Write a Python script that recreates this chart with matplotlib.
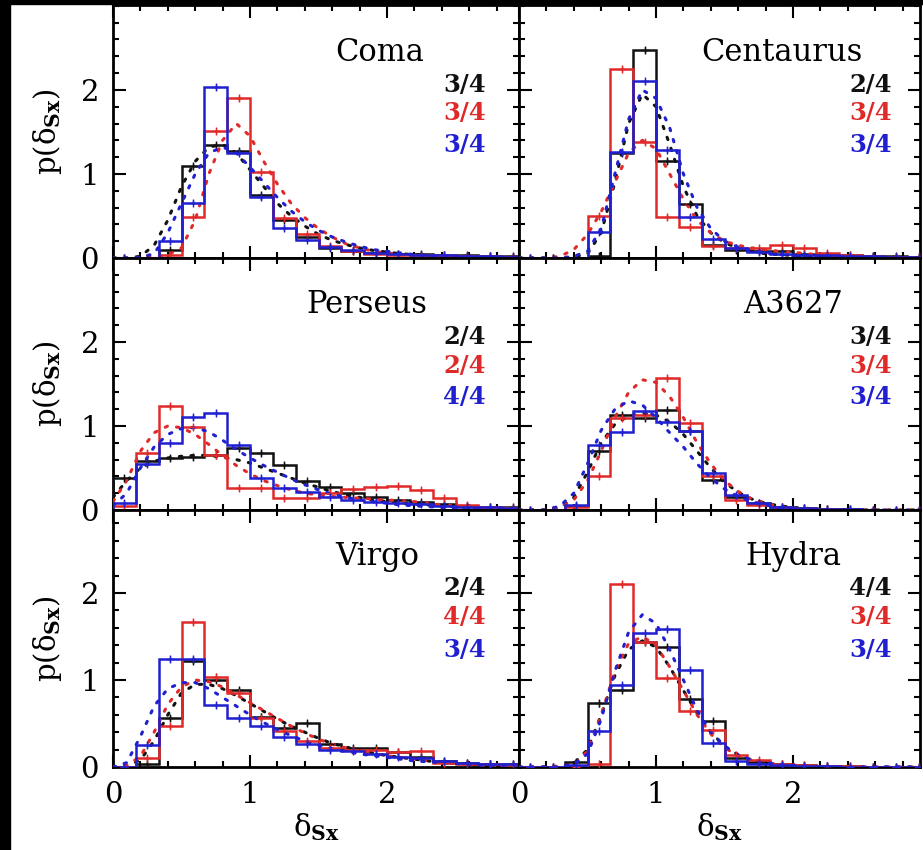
import numpy as np
import matplotlib
matplotlib.use("Agg")
import matplotlib.pyplot as plt
from matplotlib.patches import Rectangle
from matplotlib.ticker import MultipleLocator, FixedLocator

plt.rcParams['font.family'] = ['DejaVu Serif']
plt.rcParams['mathtext.fontset'] = 'dejavuserif'

# ---------------- data ----------------
bin_edges = np.arange(19) / 6.0          # bins of width 1/6 from 0 to 3
fit_x = np.round(np.arange(31) * 0.1, 2)  # sampling of the dotted model curves

clusters = ["Coma", "Centaurus", "Perseus", "A3627", "Virgo", "Hydra"]

frac_black = ["3/4", "2/4", "2/4", "3/4", "2/4", "4/4"]
frac_red   = ["3/4", "3/4", "2/4", "3/4", "4/4", "3/4"]
frac_blue  = ["3/4", "3/4", "4/4", "3/4", "3/4", "3/4"]

tick_labels = ["0", "1", "2"]

coma_black = [0, 0, 0.1, 1.1, 1.35, 1.27, 0.75, 0.45, 0.25, 0.12, 0.08, 0.06, 0.05, 0.05, 0.04, 0.03, 0.02, 0.02]
coma_red   = [0, 0, 0.03, 0.49, 1.51, 1.9, 1.02, 0.47, 0.28, 0.14, 0.08, 0.05, 0.04, 0.03, 0.03, 0.02, 0.02, 0.01]
coma_blue  = [0, 0, 0.2, 0.66, 2.03, 1.25, 0.73, 0.36, 0.22, 0.13, 0.09, 0.06, 0.05, 0.04, 0.03, 0.02, 0.02, 0.01]

cen_black = [0, 0, 0, 0.02, 1.25, 2.47, 1.15, 0.64, 0.15, 0.1, 0.08, 0.08, 0.05, 0.04, 0.03, 0.02, 0.02, 0.01]
cen_red   = [0, 0, 0, 0.5, 2.25, 1.38, 0.49, 0.37, 0.14, 0.12, 0.12, 0.15, 0.12, 0.06, 0.03, 0.02, 0.01, 0.01]
cen_blue  = [0, 0, 0, 0.31, 1.26, 2.1, 1.28, 0.49, 0.23, 0.12, 0.07, 0.05, 0.04, 0.03, 0.02, 0.02, 0.01, 0.01]

per_black = [0.38, 0.58, 0.62, 0.63, 0.65, 0.74, 0.68, 0.54, 0.34, 0.27, 0.2, 0.15, 0.12, 0.1, 0.07, 0.05, 0.04, 0.03]
per_red   = [0.05, 0.68, 1.24, 0.99, 0.65, 0.26, 0.26, 0.14, 0.14, 0.2, 0.25, 0.27, 0.29, 0.24, 0.14, 0.06, 0.03, 0.02]
per_blue  = [0.08, 0.55, 0.8, 1.11, 1.15, 0.77, 0.38, 0.26, 0.22, 0.16, 0.12, 0.1, 0.08, 0.07, 0.05, 0.04, 0.03, 0.02]

a36_black = [0, 0, 0.05, 0.7, 1.13, 1.1, 1.19, 0.94, 0.36, 0.15, 0.08, 0.04, 0.02, 0.01, 0.01, 0, 0, 0]
a36_red   = [0, 0, 0.03, 0.4, 1.1, 1.13, 1.57, 1.04, 0.4, 0.12, 0.06, 0.03, 0.02, 0.01, 0, 0, 0, 0]
a36_blue  = [0, 0, 0.06, 0.77, 0.93, 1.18, 1.05, 0.94, 0.44, 0.18, 0.08, 0.04, 0.02, 0.01, 0.01, 0, 0, 0]

vir_black = [0, 0.03, 0.56, 1.22, 1.0, 0.88, 0.58, 0.45, 0.51, 0.27, 0.22, 0.22, 0.17, 0.12, 0.07, 0.05, 0.04, 0.03]
vir_red   = [0, 0.1, 0.47, 1.67, 1.04, 0.85, 0.56, 0.41, 0.3, 0.22, 0.2, 0.2, 0.17, 0.18, 0.05, 0.04, 0.03, 0.02]
vir_blue  = [0, 0.25, 1.24, 1.24, 0.71, 0.56, 0.47, 0.35, 0.27, 0.2, 0.18, 0.15, 0.12, 0.1, 0.07, 0.05, 0.04, 0.03]

hyd_black = [0, 0, 0.06, 0.73, 0.88, 1.44, 1.38, 0.78, 0.53, 0.1, 0.06, 0.03, 0.02, 0.01, 0.01, 0, 0, 0]
hyd_red   = [0, 0, 0, 0.04, 2.1, 1.44, 1.02, 0.64, 0.43, 0.14, 0.08, 0.04, 0.02, 0.01, 0.01, 0, 0, 0]
hyd_blue  = [0, 0, 0.02, 0.41, 0.94, 1.54, 1.59, 1.11, 0.28, 0.07, 0.04, 0.02, 0.01, 0.01, 0, 0, 0, 0]

coma_black_fit = [0, 0, 0.02, 0.15, 0.45, 0.85, 1.15, 1.32, 1.35, 1.25, 1.05, 0.85, 0.65, 0.5, 0.38, 0.28, 0.21, 0.16, 0.12, 0.09, 0.07, 0.05, 0.04, 0.03, 0.02, 0.02, 0.01, 0.01, 0.01, 0, 0]
coma_red_fit   = [0, 0, 0, 0.01, 0.04, 0.12, 0.45, 1.0, 1.4, 1.6, 1.45, 1.15, 0.88, 0.65, 0.48, 0.35, 0.25, 0.17, 0.12, 0.08, 0.06, 0.04, 0.03, 0.02, 0.01, 0.01, 0, 0, 0, 0, 0]
coma_blue_fit  = [0, 0, 0.01, 0.05, 0.3, 0.65, 1.0, 1.25, 1.32, 1.25, 1.08, 0.9, 0.72, 0.56, 0.43, 0.33, 0.25, 0.19, 0.14, 0.1, 0.08, 0.06, 0.04, 0.03, 0.02, 0.02, 0.01, 0.01, 0, 0, 0]

cen_black_fit = [0, 0, 0, 0, 0.01, 0.05, 0.3, 0.9, 1.6, 1.95, 1.8, 1.35, 0.85, 0.5, 0.3, 0.18, 0.12, 0.08, 0.05, 0.04, 0.03, 0.02, 0.01, 0.01, 0, 0, 0, 0, 0, 0, 0]
cen_red_fit   = [0, 0, 0, 0.02, 0.1, 0.28, 0.55, 0.9, 1.25, 1.4, 1.3, 1.0, 0.7, 0.45, 0.3, 0.2, 0.15, 0.12, 0.1, 0.08, 0.07, 0.05, 0.04, 0.03, 0.02, 0.01, 0.01, 0, 0, 0, 0]
cen_blue_fit  = [0, 0, 0, 0, 0.02, 0.08, 0.35, 1.0, 1.65, 2.0, 1.9, 1.55, 1.0, 0.6, 0.35, 0.2, 0.13, 0.09, 0.06, 0.04, 0.03, 0.02, 0.01, 0.01, 0, 0, 0, 0, 0, 0, 0]

per_black_fit = [0.15, 0.35, 0.5, 0.58, 0.62, 0.64, 0.65, 0.65, 0.63, 0.6, 0.56, 0.5, 0.44, 0.38, 0.32, 0.27, 0.22, 0.18, 0.15, 0.12, 0.1, 0.08, 0.07, 0.06, 0.05, 0.04, 0.03, 0.02, 0.02, 0.01, 0.01]
per_red_fit   = [0.1, 0.35, 0.7, 0.92, 1.0, 0.98, 0.9, 0.78, 0.65, 0.53, 0.43, 0.35, 0.29, 0.24, 0.2, 0.18, 0.16, 0.15, 0.14, 0.13, 0.12, 0.11, 0.1, 0.08, 0.06, 0.05, 0.04, 0.03, 0.02, 0.02, 0.01]
per_blue_fit  = [0.05, 0.2, 0.5, 0.75, 0.9, 0.97, 0.98, 0.93, 0.83, 0.72, 0.62, 0.53, 0.45, 0.37, 0.3, 0.24, 0.19, 0.15, 0.12, 0.1, 0.08, 0.06, 0.05, 0.04, 0.03, 0.02, 0.02, 0.01, 0.01, 0, 0]

a36_black_fit = [0, 0, 0, 0.03, 0.15, 0.45, 0.8, 1.02, 1.12, 1.15, 1.13, 1.05, 0.9, 0.7, 0.5, 0.33, 0.21, 0.13, 0.08, 0.05, 0.03, 0.02, 0.01, 0, 0, 0, 0, 0, 0, 0, 0]
a36_red_fit   = [0, 0, 0, 0.03, 0.12, 0.35, 0.7, 1.1, 1.4, 1.55, 1.52, 1.35, 1.1, 0.8, 0.55, 0.35, 0.22, 0.13, 0.08, 0.04, 0.02, 0.01, 0, 0, 0, 0, 0, 0, 0, 0, 0]
a36_blue_fit  = [0, 0, 0, 0.05, 0.2, 0.55, 0.95, 1.2, 1.3, 1.25, 1.1, 0.92, 0.75, 0.55, 0.38, 0.25, 0.16, 0.1, 0.06, 0.03, 0.02, 0.01, 0, 0, 0, 0, 0, 0, 0, 0, 0]

vir_black_fit = [0, 0.01, 0.08, 0.3, 0.6, 0.85, 0.95, 0.95, 0.9, 0.82, 0.73, 0.64, 0.55, 0.47, 0.4, 0.33, 0.27, 0.23, 0.19, 0.16, 0.13, 0.11, 0.09, 0.07, 0.05, 0.04, 0.03, 0.02, 0.02, 0.01, 0.01]
vir_red_fit   = [0, 0.02, 0.12, 0.4, 0.72, 0.92, 1.0, 0.98, 0.92, 0.83, 0.74, 0.65, 0.56, 0.47, 0.39, 0.32, 0.26, 0.22, 0.18, 0.15, 0.13, 0.11, 0.09, 0.07, 0.05, 0.04, 0.03, 0.02, 0.02, 0.01, 0.01]
vir_blue_fit  = [0, 0.05, 0.35, 0.7, 0.9, 0.97, 0.97, 0.9, 0.8, 0.7, 0.6, 0.51, 0.43, 0.36, 0.3, 0.25, 0.21, 0.18, 0.15, 0.13, 0.11, 0.09, 0.07, 0.06, 0.05, 0.04, 0.03, 0.02, 0.02, 0.01, 0.01]

hyd_black_fit = [0, 0, 0, 0.01, 0.04, 0.2, 0.6, 1.05, 1.35, 1.45, 1.38, 1.15, 0.88, 0.62, 0.4, 0.24, 0.14, 0.08, 0.05, 0.03, 0.02, 0.01, 0, 0, 0, 0, 0, 0, 0, 0, 0]
hyd_red_fit   = [0, 0, 0, 0.01, 0.03, 0.18, 0.6, 1.1, 1.42, 1.5, 1.4, 1.15, 0.88, 0.6, 0.38, 0.22, 0.13, 0.08, 0.05, 0.03, 0.02, 0.01, 0, 0, 0, 0, 0, 0, 0, 0, 0]
hyd_blue_fit  = [0, 0, 0, 0, 0.03, 0.15, 0.55, 1.1, 1.55, 1.75, 1.65, 1.35, 1.0, 0.65, 0.4, 0.24, 0.14, 0.08, 0.05, 0.03, 0.02, 0.01, 0, 0, 0, 0, 0, 0, 0, 0, 0]

hists = [
    (coma_black, coma_red, coma_blue),
    (cen_black, cen_red, cen_blue),
    (per_black, per_red, per_blue),
    (a36_black, a36_red, a36_blue),
    (vir_black, vir_red, vir_blue),
    (hyd_black, hyd_red, hyd_blue),
]
fits = [
    (coma_black_fit, coma_red_fit, coma_blue_fit),
    (cen_black_fit, cen_red_fit, cen_blue_fit),
    (per_black_fit, per_red_fit, per_blue_fit),
    (a36_black_fit, a36_red_fit, a36_blue_fit),
    (vir_black_fit, vir_red_fit, vir_blue_fit),
    (hyd_black_fit, hyd_red_fit, hyd_blue_fit),
]

# ---------------- layout / style ----------------
W, H = 923, 850
colors = ['#111111', '#e02a2a', '#2020d0']
name_x = [1.95, 1.92, 1.85, 2.0, 1.93, 2.0]

fig = plt.figure(figsize=(W / 100, H / 100), dpi=100, facecolor='white')

col_px = [(113, 406), (519, 401)]
row_px = [(5, 253, 3.01), (258, 252, 3.0), (510, 257, 2.954)]
xunit = 137.0

centers = 0.5 * (bin_edges[:-1] + bin_edges[1:])

for i, name in enumerate(clusters):
    r, c = divmod(i, 2)
    x0, w = col_px[c]
    y0, h, ytop = row_px[r]
    ax = fig.add_axes([x0 / W, 1 - (y0 + h) / H, w / W, h / H])
    ax.set_xlim(0, w / xunit)
    ax.set_ylim(0, ytop)
    ax.set_facecolor('white')

    for k in range(3):
        vals = np.array(hists[i][k])
        ax.stairs(vals, bin_edges, color=colors[k], lw=1.8, zorder=3 + k)
        ax.errorbar(centers, vals, yerr=0.035, fmt='+', ms=6, mew=1.0,
                    color=colors[k], elinewidth=1.0, capsize=0, zorder=3 + k)
        ax.plot(fit_x, fits[i][k], color=colors[k], lw=2.2,
                ls=(0, (0.8, 3.0)), dash_capstyle='round', zorder=2 + k)

    ax.text(name_x[i], 0.78 * ytop if r < 2 else 0.786 * ytop, name,
            ha='center', va='baseline', fontsize=22, color='black')
    for k, lab in enumerate([frac_black[i], frac_red[i], frac_blue[i]]):
        ax.text(2.72, [2.06, 1.72, 1.35][k], lab, ha='right', va='center',
                fontsize=17.5, fontweight='bold', color=colors[k])

    ax.xaxis.set_major_locator(FixedLocator([0, 1, 2]))
    ax.xaxis.set_minor_locator(MultipleLocator(0.2))
    ax.yaxis.set_major_locator(FixedLocator([0, 1, 2]))
    ax.yaxis.set_minor_locator(MultipleLocator(0.2))
    ax.tick_params(which='both', direction='in', top=True, right=True,
                   labelsize=21, width=1.5)
    ax.tick_params(which='major', length=9, pad=10)
    ax.tick_params(which='minor', length=4.5)
    for sp in ax.spines.values():
        sp.set_linewidth(2.0)

    if c == 0:
        ax.set_yticklabels(tick_labels)
        ax.set_ylabel('p(δ$_{\\mathbf{Sx}}$)', fontsize=21, labelpad=12)
    else:
        ax.tick_params(labelleft=False)
    if r == 2:
        ax.set_xticklabels(tick_labels)
        ax.set_xlabel('δ$_{\\mathbf{Sx}}$', fontsize=21, labelpad=2)
    else:
        ax.tick_params(labelbottom=False)

# black frame strips from the scanned original
fig.patches.append(Rectangle((0, 0), 10 / W, 1, transform=fig.transFigure,
                             color='black', zorder=10))
fig.patches.append(Rectangle((0, 1 - 4 / H), 1, 4 / H, transform=fig.transFigure,
                             color='black', zorder=10))

fig.savefig('out.png', dpi=100, facecolor='white')
